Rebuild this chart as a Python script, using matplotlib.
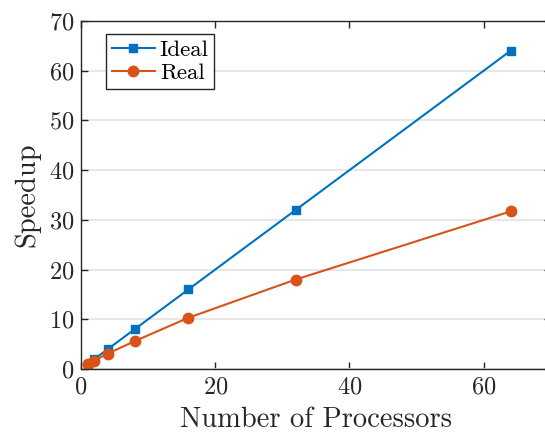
import matplotlib
matplotlib.use("Agg")
import matplotlib.pyplot as plt

plt.rcParams['font.family'] = 'cmr10'
plt.rcParams['mathtext.fontset'] = 'cm'
plt.rcParams['axes.formatter.use_mathtext'] = True

processors = [1, 2, 4, 8, 16, 32, 64]
ideal = [1, 2, 4, 8, 16, 32, 64]
real = [1.0, 1.7, 3.1, 5.6, 10.3, 18.0, 31.7]

blue = '#0072BD'
orange = '#D95319'

fig = plt.figure(figsize=(5.45, 4.36), dpi=100)
ax = fig.add_axes([0.1486, 0.1537, 0.862, 0.7981])

ax.plot(processors, ideal, '-s', color=blue, lw=1.5, ms=6, label='Ideal')
ax.plot(processors, real, '-o', color=orange, lw=1.5, ms=7.5, label='Real')

ax.set_xlim(0, 70)
ax.set_ylim(0, 70)
ax.set_xticks([0, 20, 40, 60])
ax.set_yticks(range(0, 71, 10))
ax.yaxis.grid(True, color='#e3e3e3', lw=1.2)
ax.set_axisbelow(True)
ax.tick_params(direction='in', top=True, right=True, labelsize=17.5, length=5, width=1,
               colors='#262626', pad=5)
for s in ax.spines.values():
    s.set_color('#262626')
    s.set_linewidth(1)

ax.set_xlabel('Number of Processors', fontsize=20.5, color='#262626', labelpad=6)
ax.set_ylabel('Speedup', fontsize=20.5, color='#262626', labelpad=6)

leg = ax.legend(loc='upper left', bbox_to_anchor=(0.053, 0.963), fontsize=16.5, fancybox=False,
                edgecolor='#262626', framealpha=1, handlelength=1.9, borderpad=0.25,
                labelspacing=0.15, handletextpad=0.2, borderaxespad=0)
leg.get_frame().set_linewidth(1)

fig.savefig('out.png', dpi=100)
